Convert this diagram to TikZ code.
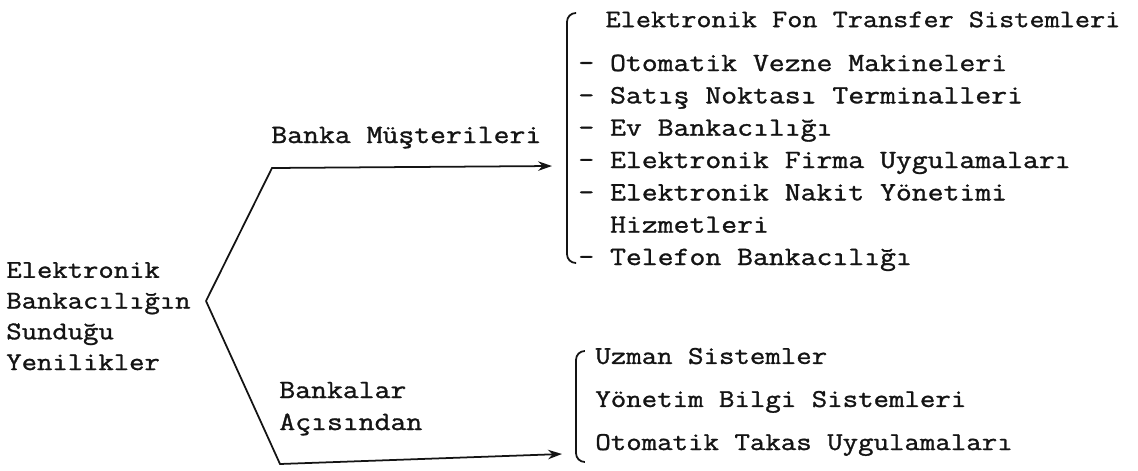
\documentclass[tikz,border=0pt]{standalone}
\usepackage{fontspec}
\setmonofont[FakeStretch=1.17, FakeBold=1.2]{Latin Modern Mono}
\usetikzlibrary{arrows.meta}
\definecolor{typeink}{RGB}{20, 20, 20}

\begin{document}
\begin{tikzpicture}[x=0.02cm, y=-0.02cm,
      txt/.style={anchor=base west, inner sep=0pt, align=left, text=typeink, font=\ttfamily\fontsize{15}{18.4}\selectfont},
      arr/.style={-{Stealth[length=2.8mm, width=1.9mm]}, line width=1pt, typeink},
      brace/.style={line width=1pt, typeink, rounded corners=5pt}
    ]
      \useasboundingbox (0, 0) rectangle (1138, 470);

      % root and the two branches (base anchor = last line)
      \node[txt, font=\ttfamily\fontsize{14.5}{17.5}\selectfont] (root) at (6, 370) {Elektronik\\Bankacılığın\\Sunduğu\\Yenilikler};
      \coordinate (V) at (206, 301);
      \coordinate (UC) at (272, 168);
      \coordinate (UE) at (552, 166);
      \coordinate (LC) at (280, 464);
      \coordinate (LE) at (562, 454);

      \node[txt] (cust) at (271, 143) {Banka Müşterileri};
      \node[txt, font=\ttfamily\fontsize{15}{18.2}\selectfont] (bank) at (279, 430) {Bankalar\\Açısından};

      \draw[arr] (V) -- (UC) -- (UE);
      \draw[arr] (V) -- (LC) -- (LE);

      % lists
      \node[txt] (custlist) at (578, 265) {\hspace*{15.5pt}{\fontsize{14.3}{18.4}\selectfont Elektronik Fon Transfer Sistemleri}\\[6.6pt]
        - Otomatik Vezne Makineleri\\
        - Satış Noktası Terminalleri\\
        - Ev Bankacılığı\\
        - Elektronik Firma Uygulamaları\\
        - Elektronik Nakit Yönetimi\\
        \phantom{- }Hizmetleri\\
        - Telefon Bankacılığı};
      \node[txt, font=\ttfamily\fontsize{14.6}{24.5}\selectfont] (banklist) at (595, 450) {Uzman Sistemler\\Yönetim Bilgi Sistemleri\\Otomatik Takas Uygulamaları};

      \draw[brace] (576, 13) -- (567, 13) -- (567, 263) -- (576, 263);
      \draw[brace] (584, 351) -- (576, 351) -- (576, 462) -- (584, 462);
    \end{tikzpicture}
\end{document}
